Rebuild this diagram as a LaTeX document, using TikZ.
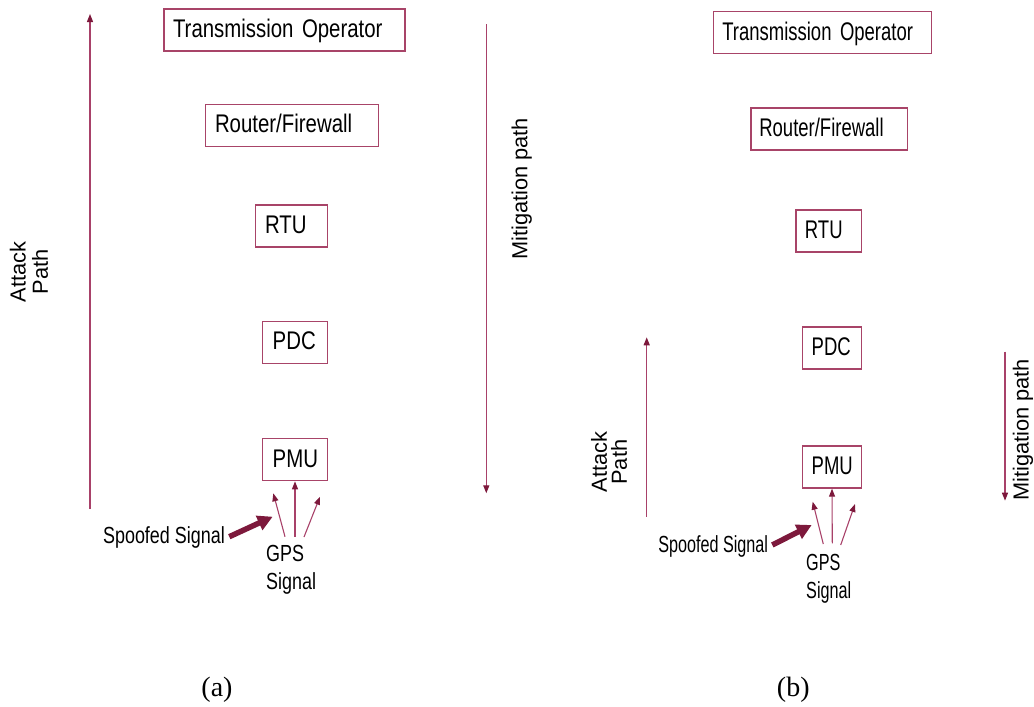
\documentclass[tikz,border=0pt]{standalone}
\usepackage{fontspec}
\setmainfont{Liberation Serif}
\newfontfamily\boxfa[FakeStretch=0.80]{Liberation Sans}
\newfontfamily\boxfb[FakeStretch=0.725]{Liberation Sans}
\newfontfamily\smfa[FakeStretch=0.77]{Liberation Sans}
\newfontfamily\smfb[FakeStretch=0.695]{Liberation Sans}
\newfontfamily\plainsans{Liberation Sans}
\newcommand\myboxfonta{\boxfa\fontsize{25.5}{28}\selectfont\spaceskip 5.6pt\relax}
\newcommand\myboxfontb{\boxfb\fontsize{25.5}{28}\selectfont\spaceskip 5.1pt\relax}
\newcommand\mysmfonta{\smfa\fontsize{23.3}{28.3}\selectfont\spaceskip 5pt\relax}
\newcommand\mysmfontb{\smfb\fontsize{23.3}{28.3}\selectfont\spaceskip 4.5pt\relax}
\usetikzlibrary{arrows.meta}
\definecolor{boxc}{RGB}{168,68,104}
\definecolor{linec}{RGB}{168,65,105}
\definecolor{headc}{RGB}{125,25,60}
\begin{document}
\begin{tikzpicture}[x=1pt,y=-1pt,
  unit/.style={draw=boxc, line width=1.3pt, inner ysep=0pt, minimum height=42pt, text height=18pt, text depth=2.5pt, align=left},
  pa/.style={unit, font=\myboxfonta},
  pb/.style={unit, font=\myboxfontb},
  flow/.style={draw=linec, line width=1.3pt, -{Triangle[length=8pt,width=6pt,color=headc]}},
  gps/.style={draw=linec, line width=1.1pt, -{Triangle[length=8pt,width=6pt,color=headc]}},
  spoof/.style={draw=headc, line width=5.5pt, -{Triangle[length=15pt,width=15pt]}},
  rot/.style={rotate=90, inner sep=0pt, align=center},
  sma/.style={inner sep=0pt, font=\mysmfonta},
  smb/.style={inner sep=0pt, font=\mysmfontb},
  subcap/.style={anchor=base, inner sep=0pt, font=\fontsize{28}{30}\selectfont}
]
\useasboundingbox (0,0) rectangle (1034,707);

% ---------- panel (a) ----------
\node[pa, text width=223pt, inner xsep=9pt] (toa) at (284.5,30) {Transmission Operator};
\node[pa, text width=154pt, inner xsep=9.3pt] (rfa) at (292,125.2) {Router/Firewall};
\node[pa, text width=53pt, inner xsep=9.7pt] (rtua) at (291.5,226) {RTU};
\node[pa, text width=44.6pt, inner xsep=10.4pt] (pdca) at (295,342.2) {PDC};
\node[pa, text width=44.6pt, inner xsep=10.4pt] (pmua) at (295,459.7) {PMU};

\coordinate (atka0) at (90,509);
\coordinate (atka1) at (90,14);
\draw[flow] (atka0) -- (atka1);
\node[rot, font=\plainsans\fontsize{21.8}{22.4}\selectfont] (atla) at (29,272) {Attack\\Path};

\coordinate (mita0) at (486.3,24.3);
\coordinate (mita1) at (486.3,493.3);
\draw[flow] (mita0) -- (mita1);
\node[rot, anchor=base, font=\plainsans\fontsize{21.8}{22.4}\selectfont] (mitla) at (527.3,189) {Mitigation path};

\coordinate (gal0) at (285,536.7);
\coordinate (gal1) at (273.3,493.3);
\coordinate (gam0) at (295,536.7);
\coordinate (gar0) at (304,537);
\coordinate (gar1) at (320,496.7);
\draw[gps] (gal0) -- (gal1);
\draw[gps] (gam0) -- (pmua.south);
\draw[gps] (gar0) -- (gar1);

\coordinate (spa0) at (229.3,536.7);
\coordinate (spa1) at (272.7,516.7);
\draw[spoof] (spa0) -- (spa1);
\node[sma, anchor=base east] (spta) at (225,543.3) {Spoofed Signal};
\node[sma, anchor=north west, align=left] (gpsta) at (266,545) {GPS\\Signal};

\node[subcap] (capa) at (217,696.7) {(a)};

% ---------- panel (b) ----------
\node[pb, text width=200.4pt, inner xsep=9pt] (tob) at (822.5,32.8) {Transmission Operator};
\node[pb, text width=139.7pt, inner xsep=8.3pt] (rfb) at (829.2,129) {Router/Firewall};
\node[pb, text width=47.7pt, inner xsep=9pt] (rtub) at (828.8,231) {RTU};
\node[pb, text width=40.6pt, inner xsep=9.4pt] (pdcb) at (832,348) {PDC};
\node[pb, text width=40.6pt, inner xsep=9.4pt] (pmub) at (832,467) {PMU};

\coordinate (atkb0) at (646.7,516.7);
\coordinate (atkb1) at (646.7,337.3);
\draw[flow] (atkb0) -- (atkb1);
\node[rot, font=\plainsans\fontsize{21.8}{20}\selectfont] (atlb) at (609.2,462.2) {Attack\\Path};

\coordinate (mitb0) at (1005,351.7);
\coordinate (mitb1) at (1005,500.7);
\draw[flow] (mitb0) -- (mitb1);
\node[rot, anchor=base, font=\plainsans\fontsize{21.8}{22.4}\selectfont] (mitlb) at (1028.5,430) {Mitigation path};

\coordinate (gbl0) at (823.3,544);
\coordinate (gbl1) at (812.7,501.7);
\coordinate (gbm0) at (832.3,543.3);
\coordinate (gbr0) at (840.7,545);
\coordinate (gbr1) at (855,504);
\draw[gps] (gbl0) -- (gbl1);
\draw[gps] (gbm0) -- (pmub.south);
\draw[gps] (gbr0) -- (gbr1);

\coordinate (spb0) at (772.3,545);
\coordinate (spb1) at (811.7,525);
\draw[spoof] (spb0) -- (spb1);
\node[smb, anchor=base east] (sptb) at (768.3,552.7) {Spoofed Signal};
\node[smb, anchor=north west, align=left] (gpstb) at (806,554) {GPS\\Signal};

\node[subcap] (capb) at (793.3,696.7) {(b)};
\end{tikzpicture}
\end{document}
